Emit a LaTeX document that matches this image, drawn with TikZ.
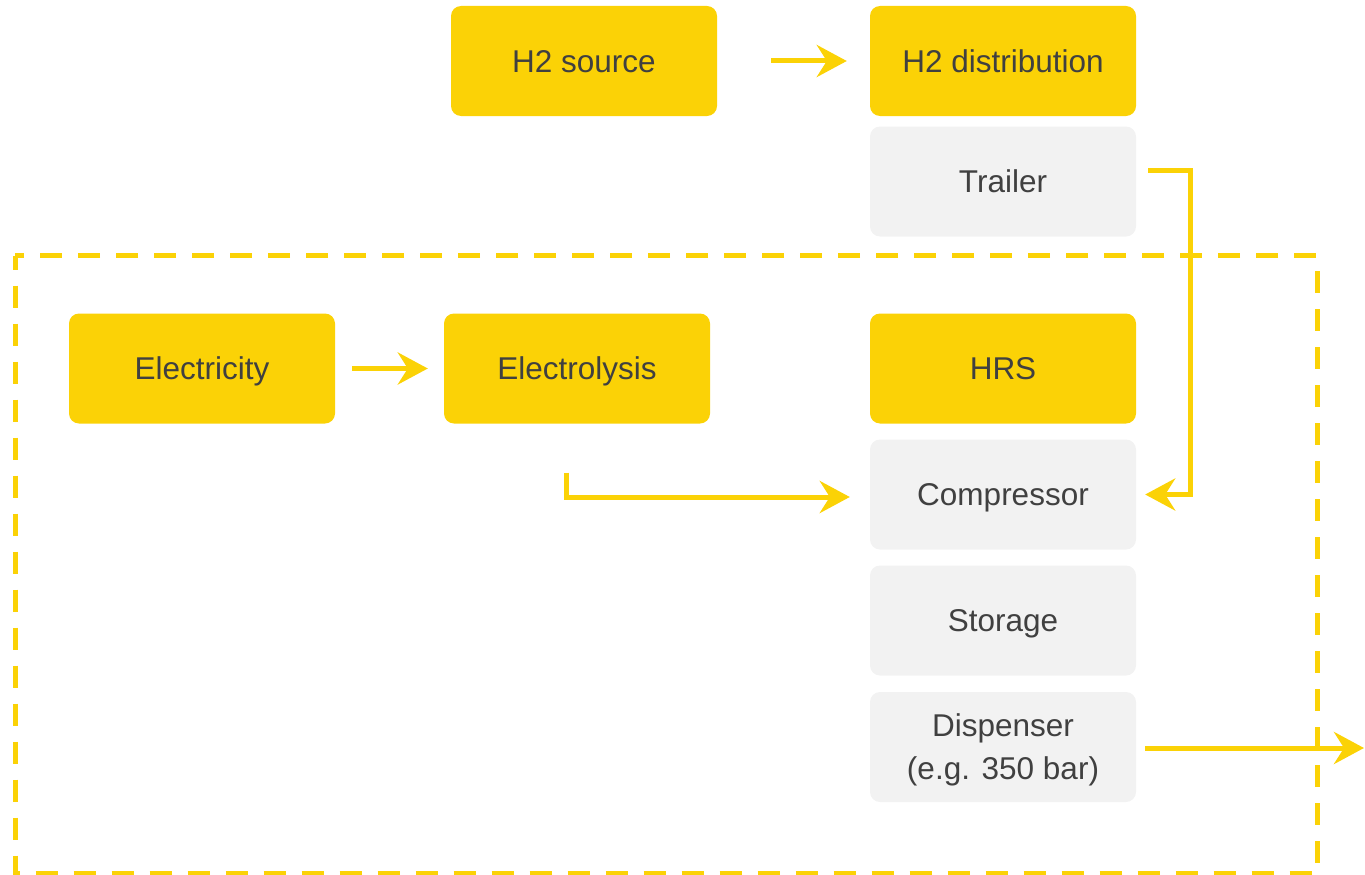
\documentclass[tikz,border=0pt]{standalone}
\usepackage{fontspec}
\setmainfont{Liberation Sans}
\usetikzlibrary{arrows.meta,calc}
\definecolor{ylw}{HTML}{FBD206}
\definecolor{gry}{HTML}{F2F2F2}
\definecolor{txt}{HTML}{404040}
\tikzset{
  box/.style={rounded corners=10pt, minimum width=266pt, minimum height=110pt, inner sep=0pt,
    text height=22.5pt, text depth=0pt,
    text=txt, align=center, font=\fontsize{31.5}{43}\selectfont},
  ybox/.style={box, fill=ylw},
  gbox/.style={box, fill=gry},
  arr/.style={draw=ylw, line width=5pt, -{Stealth[length=30pt,width=32pt,inset=10pt]}},
  frame/.style={draw=ylw, line width=5pt, dash pattern=on 22pt off 16pt, dash phase=8pt}
}
\begin{document}
\begin{tikzpicture}[x=1pt,y=-1pt]
\useasboundingbox (0,0) rectangle (1365,875);
\draw[frame] (15,255.5) rectangle (1317,873);
\node[ybox] (src) at (584,61) {H2 source};
\node[ybox] (dist) at (1003,61) {H2 distribution};
\node[gbox] (trl) at (1003,181.5) {Trailer};
\node[ybox] (elec) at (202,368.5) {Electricity};
\node[ybox] (ely) at (577,368.5) {Electrolysis};
\node[ybox] (hrs) at (1003,368.5) {HRS};
\node[gbox] (comp) at (1003,494.5) {Compressor};
\node[gbox] (stor) at (1003,620.5) {Storage};
\node[gbox, text height=65pt] (disp) at (1003,747) {Dispenser\\(e.g. 350 bar)};
\coordinate (out) at (1364,748);
\draw[arr] ([xshift=54pt]src.east) -- ([xshift=-23pt]dist.west);
\draw[arr] ([xshift=17pt]elec.east) -- ([xshift=-16pt]ely.west);
\draw[arr, line join=miter] ([xshift=-11pt,yshift=-49pt]ely.south) |- ([xshift=-20pt,yshift=-2.5pt]comp.west);
\draw[arr, line join=miter] ([xshift=12pt,yshift=11.5pt]trl.east) -| ([xshift=54pt]comp.east) -- ([xshift=9pt]comp.east);
\draw[arr] ([xshift=9pt,yshift=-1pt]disp.east) -- (out);
\end{tikzpicture}
\end{document}
